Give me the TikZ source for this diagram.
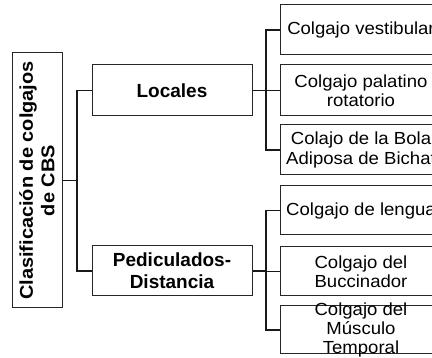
\documentclass[tikz,border=0pt]{standalone}
\usepackage{fontspec}
\setmainfont{Liberation Sans}
\newfontfamily\leaffont[FakeStretch=1.06]{Liberation Sans}
\newfontfamily\rootfont[FakeStretch=1.08]{Liberation Sans}
\begin{document}
\begin{tikzpicture}[x=1pt,y=-1pt,
  box/.style={draw=black!85, line width=1pt, rectangle, inner sep=2pt, align=center},
  midbox/.style={box, minimum width=160pt, minimum height=51pt, font=\fontsize{19}{22}\selectfont\bfseries},
  leafbox/.style={box, minimum width=162pt, minimum height=50pt, font=\leaffont\fontsize{17.5}{19.5}\selectfont},
  conn/.style={line width=1.4pt, black!90}]
\useasboundingbox (0,0) rectangle (432,358);
\clip (0,0) rectangle (432,358);
% root
\node[box, minimum width=50pt, minimum height=255pt] (root) at (37,180.5) {};
\node[rotate=90, align=center, inner sep=0pt, font=\rootfont\fontsize{18.5}{21.5}\selectfont\bfseries] (roottext) at (root.center) {Clasificación de colgajos\\de CBS};
% mid level
\node[midbox] (loc) at (172,90.5) {Locales};
\node[midbox, minimum height=50pt] (ped) at (172,271) {Pediculados-\\Distancia};
% leaves
\node[leafbox] (l1) at (361,30) {Colgajo vestibular};
\node[leafbox, minimum height=51pt] (l2) at (361,90.5) {Colgajo palatino\\rotatorio};
\node[leafbox] (l3) at (361,150) {Colajo de la Bola\\Adiposa de Bichat};
\node[leafbox, minimum height=49pt] (l4) at (361,210.5) {Colgajo de lengua};
\node[leafbox, minimum height=49pt] (l5) at (361,271.5) {Colgajo del\\Buccinador};
\node[leafbox, minimum height=48pt] (l6) at (361,330) {};
\node[align=center, inner sep=0pt, font=\leaffont\fontsize{17.5}{19.3}\selectfont] (l6text) at (361,330) {Colgajo del\\Músculo\\Temporal};
% trunk coordinates
\coordinate (t0) at (77,0);
\coordinate (t1) at (266,0);
% connectors
\draw[conn] (root.east) -- (root.east -| t0);
\draw[conn] (loc.west) -| (t0 |- ped.west) -- (ped.west);
\draw[conn] (loc.east) -- (loc.east -| t1);
\draw[conn] (l1.west) -| (t1 |- l3.west) -- (l3.west);
\draw[conn] (t1 |- l2.west) -- (l2.west);
\draw[conn] (ped.east) -- (ped.east -| t1);
\draw[conn] (l4.west) -| (t1 |- l6.west) -- (l6.west);
\draw[conn] (t1 |- l5.west) -- (l5.west);
\end{tikzpicture}
\end{document}
